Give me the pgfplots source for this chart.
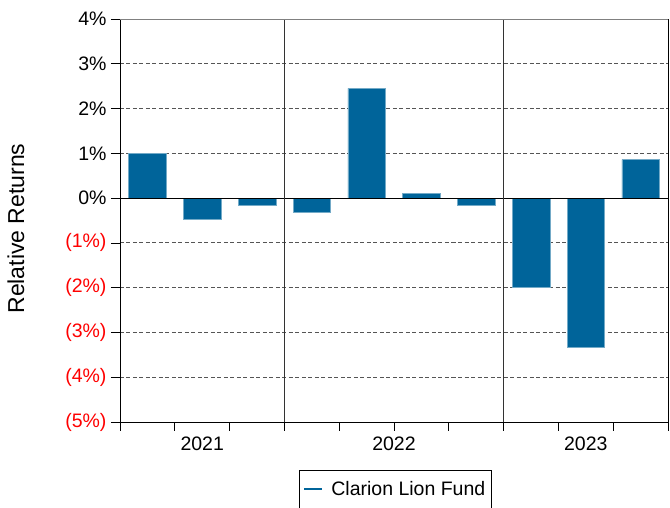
\documentclass[border=0pt]{standalone}
\usepackage{pgfplots}
\pgfplotsset{compat=1.18}
\usepackage{fontspec}
\setmainfont{Liberation Sans}
\definecolor{barblue}{HTML}{00649A}
\definecolor{gridgray}{HTML}{555555}
\begin{document}
\begin{tikzpicture}[x=1pt,y=1pt]
\useasboundingbox (-120pt,-86pt) rectangle (550pt,422pt);
\begin{axis}[
  at={(0pt,0pt)}, anchor=south west,
  scale only axis, width=548pt, height=403pt,
  xmin=-0.5, xmax=9.5, ymin=-5, ymax=4,
  axis line style={black, line width=0.8pt},
  xtick={-0.5,0.5,...,9.5}, xticklabels={},
  extra x ticks={1,4.5,8}, extra x tick labels={2021,2022,2023},
  extra x tick style={major tick length=0pt, xticklabel style={yshift=-11pt}},
  ytick={-5,-4,...,4},
  yticklabels={{\color{red}(5\%)},{\color{red}(4\%)},{\color{red}(3\%)},{\color{red}(2\%)},{\color{red}(1\%)},0\%,1\%,2\%,3\%,4\%},
  tick align=outside, major tick length=9pt,
  tick style={black, line width=0.7pt},
  xtick pos=bottom, ytick pos=left,
  ymajorgrids,
  grid style={gridgray, dash pattern=on 4pt off 2.5pt, line width=0.8pt},
  tick label style={font=\fontsize{19.5}{22}\selectfont},
  yticklabel style={xshift=-1pt},
  ylabel={Relative Returns},
  ylabel style={font=\fontsize{23}{26}\selectfont, at={(axis description cs:-0.19,0.48)}, anchor=center},
  legend style={at={(0.502,-0.119)}, anchor=north, draw=black, line width=0.6pt,
    font=\fontsize{19.5}{22}\selectfont, inner xsep=4pt, inner ysep=9pt},
  legend cell align=left,
]
\addplot[ybar, bar width=37.5pt, fill=barblue, draw=barblue!55!white, line width=0.5pt, forget plot]
  coordinates {(0,1.00) (1,-0.48) (2,-0.16) (3,-0.32) (4,2.45) (5,0.10) (6,-0.17) (7,-2.00) (8,-3.34) (9,0.86)};
\draw[black, line width=1.2pt] (axis cs:-0.5,0) -- (axis cs:9.5,0);
\draw[black!80, line width=0.8pt] (axis cs:2.5,-5) -- (axis cs:2.5,4);
\draw[black!80, line width=0.8pt] (axis cs:6.5,-5) -- (axis cs:6.5,4);
\draw[gray, line width=0.9pt] (axis cs:-0.5,4) -- (axis cs:9.5,4);
\addlegendimage{legend image code/.code={\draw[barblue, line width=2.5pt] (0pt,0pt) -- (18pt,0pt);}}
\addlegendentry{\hspace{6pt}Clarion Lion Fund}
\end{axis}
\end{tikzpicture}
\end{document}
